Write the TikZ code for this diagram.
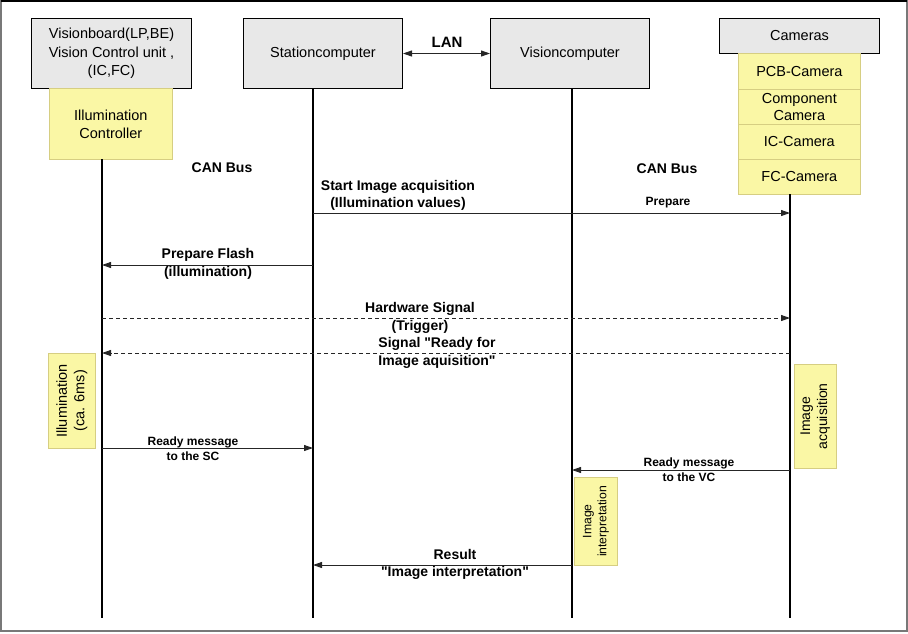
\documentclass[tikz,border=0pt]{standalone}
\usepackage{fontspec}
\setmainfont{Liberation Sans}
\newfontfamily\qfont{Liberation Sans}
\usetikzlibrary{arrows.meta}
\definecolor{boxgray}{RGB}{232,232,232}
\definecolor{ylw}{RGB}{250,247,165}
\definecolor{yborder}{RGB}{214,206,130}
\definecolor{framegray}{RGB}{120,120,120}
\newcommand{\dq}{{\qfont\bfseries\char34}}
\tikzset{
  hbox/.style={draw=black, fill=boxgray, line width=1pt, align=center, anchor=north west, inner sep=0pt,
    font=\fontsize{14.5}{18.3}\selectfont},
  ybox/.style={draw=yborder, fill=ylw, line width=0.7pt, align=center, anchor=north west, inner sep=0pt,
    font=\fontsize{14.5}{18}\selectfont},
  life/.style={line width=2.8pt, black},
  msg/.style={line width=0.9pt, draw=black!85, -{Triangle[length=9pt,width=6pt]}},
  dmsg/.style={msg, dash pattern=on 4pt off 3pt},
  lbl/.style={font=\bfseries\fontsize{14}{17}\selectfont, align=center, inner sep=0pt},
  slbl/.style={font=\bfseries\fontsize{12}{15}\selectfont, align=center, inner sep=0pt},
}
\begin{document}
\begin{tikzpicture}[x=1pt,y=-1pt]
\useasboundingbox (0,0) rectangle (908,633);
% frame
\draw[framegray, line width=1.5pt] (1,1) rectangle (907,631);
\draw[black, line width=1.5pt] (1,1) -- (907,1);

% heads
\node[hbox, minimum width=160pt, minimum height=70pt] (vb) at (31,18) {Visionboard(LP,BE)\\Vision Control unit ,\\(IC,FC)};
\node[ybox, minimum width=123pt, minimum height=71pt] (ic) at (49,88) {Illumination\\Controller};
\node[hbox, minimum width=159pt, minimum height=70pt] (sc) at (243,18) {Stationcomputer};
\node[hbox, minimum width=159pt, minimum height=70pt] (vc) at (490,18) {Visioncomputer};
\node[hbox, minimum width=160pt, minimum height=35pt] (cams) at (719,18) {Cameras};
\node[ybox, minimum width=122pt, minimum height=36pt] (pcb) at (738,53) {PCB-Camera};
\node[ybox, minimum width=122pt, minimum height=35pt, font=\fontsize{14.5}{16.5}\selectfont] (comp) at (738,89) {Component\\Camera};
\node[ybox, minimum width=122pt, minimum height=35pt] (iccam) at (738,124) {IC-Camera};
\node[ybox, minimum width=122pt, minimum height=35pt] (fccam) at (738,159) {FC-Camera};

% LAN
\draw[line width=0.9pt, draw=black!85, {Triangle[length=9pt,width=6pt]}-{Triangle[length=9pt,width=6pt]}] (sc.east) -- (vc.east -| vc.west);
\node[lbl, font=\bfseries\fontsize{15}{17}\selectfont] (lan) at (447,42) {LAN};

% lifelines
\coordinate (aTop) at (102,159);
\coordinate (aEnd) at (102,618);
\coordinate (sTop) at (313,88);
\coordinate (sEnd) at (313,618);
\coordinate (vTop) at (572,88);
\coordinate (vEnd) at (572,618);
\coordinate (cTop) at (790,194);
\coordinate (cEnd) at (790,618);
\draw[life] (aTop) -- (aEnd);
\draw[life] (sTop) -- (sEnd);
\draw[life] (vTop) -- (vEnd);
\draw[life] (cTop) -- (cEnd);

% activity boxes
\node[ybox, minimum width=47pt, minimum height=95pt] (illum) at (48,353) {};
\node[rotate=90, align=center, font=\fontsize{14.5}{17.5}\selectfont] at (illum.center) {Illumination\\(ca. 6ms)};
\node[ybox, minimum width=42pt, minimum height=104pt] (acq) at (794,364) {};
\node[rotate=90, align=center, font=\fontsize{14}{17}\selectfont] at (acq.center) {Image\\acquisition};
\node[ybox, minimum width=43pt, minimum height=88pt] (interp) at (574,477) {};
\node[rotate=90, align=center, font=\fontsize{12.2}{15}\selectfont] at (interp.center) {Image\\interpretation};

% CAN bus labels
\node[lbl] (can1) at (222,168) {CAN Bus};
\node[lbl] (can2) at (667,169) {CAN Bus};

% messages
\coordinate (m1s) at (313,213); \coordinate (m1e) at (790,213);
\draw[msg] (m1s) -- (m1e);
\node[lbl] at (398,195) {Start Image acquisition\\(Illumination values)};
\node[slbl] at (668,203) {Prepare};

\coordinate (m2s) at (313,265); \coordinate (m2e) at (102,265);
\draw[msg] (m2s) -- (m2e);
\node[lbl, font=\bfseries\fontsize{14}{18}\selectfont] at (208,264) {Prepare Flash\\(illumination)};

\coordinate (m3s) at (102,318); \coordinate (m3e) at (790,318);
\draw[dmsg] (m3s) -- (m3e);
\node[lbl, font=\bfseries\fontsize{14}{18}\selectfont] at (420,318) {Hardware Signal\\(Trigger)};

\coordinate (m4s) at (790,353); \coordinate (m4e) at (102,353);
\draw[dmsg] (m4s) -- (m4e);
\node[lbl, font=\bfseries\fontsize{14}{18}\selectfont] at (437,353) {Signal \dq Ready for\\Image aquisition\dq};

\coordinate (m5s) at (102,448); \coordinate (m5e) at (313,448);
\draw[msg] (m5s) -- (m5e);
\node[slbl] at (193,448.5) {Ready message\\to the SC};

\coordinate (m6s) at (790,470); \coordinate (m6e) at (572,470);
\draw[msg] (m6s) -- (m6e);
\node[slbl] at (689,469.5) {Ready message\\to the VC};

\coordinate (m7s) at (572,565); \coordinate (m7e) at (313,565);
\draw[msg] (m7s) -- (m7e);
\node[lbl] at (455,564.5) {Result\\\dq Image interpretation\dq};
\end{tikzpicture}
\end{document}
